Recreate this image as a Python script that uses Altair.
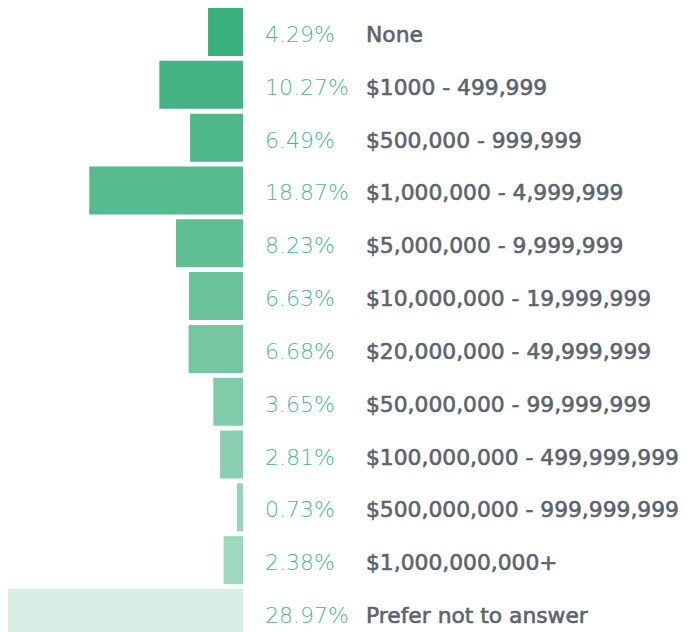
import altair as alt
import pandas as pd

categories = ["None", "$1000 - 499,999", "$500,000 - 999,999", "$1,000,000 - 4,999,999",
              "$5,000,000 - 9,999,999", "$10,000,000 - 19,999,999", "$20,000,000 - 49,999,999",
              "$50,000,000 - 99,999,999", "$100,000,000 - 499,999,999",
              "$500,000,000 - 999,999,999", "$1,000,000,000+", "Prefer not to answer"]
values = [4.29, 10.27, 6.49, 18.87, 8.23, 6.63, 6.68, 3.65, 2.81, 0.73, 2.38, 28.97]
colors = ["#3bb07f", "#45b484", "#4db789", "#55ba8d", "#5fbe94", "#6ac39b",
          "#74c7a1", "#80cba9", "#8ad0b0", "#94d4b7", "#9ed8bf", "#d8efe5"]

df = pd.DataFrame({"cat": categories, "val": values, "color": colors})
df["pct"] = df["val"].map(lambda v: f"{v:.2f}%")

W, H = 675, 629
y = alt.Y("cat:N", sort=categories, axis=None,
          scale=alt.Scale(paddingInner=0.09, paddingOuter=0))

base = alt.Chart(df)
bars = base.mark_bar(cornerRadius=0).encode(
    x=alt.X("val:Q", axis=None, scale=alt.Scale(domain=[0, 28.97], range=[235, -1], nice=False, zero=True)),
    x2=alt.datum(0),
    y=y,
    color=alt.Color("color:N", scale=None, legend=None),
)
pct = base.mark_text(align="left", baseline="middle", font="DejaVu Sans", fontSize=22,
                     fontWeight=200, color="#4cb98a", dy=3).encode(
    x=alt.value(257), y=y, text="pct:N")
lab = base.mark_text(align="left", baseline="middle", font="DejaVu Sans", fontSize=21.8,
                     fontWeight=400, color="#5b646c", stroke="#5b646c", strokeWidth=0.6,
                     dy=3).encode(
    x=alt.value(358), y=y, text="cat:N")

chart = alt.layer(bars, pct, lab).properties(
    width=W, height=H, padding=0, autosize=alt.AutoSizeParams(type="none")
).configure_view(stroke=None)

chart.save("out.html", embed_options={"renderer": "svg", "actions": False})
